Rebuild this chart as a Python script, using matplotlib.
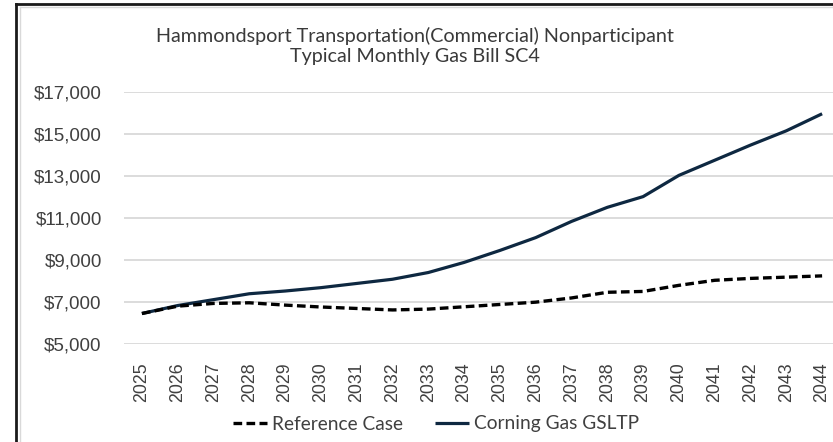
import numpy as np
import matplotlib
matplotlib.use("Agg")
import matplotlib.pyplot as plt
from matplotlib.lines import Line2D
from matplotlib.ticker import FuncFormatter

# Chart data
years = [str(y) for y in range(2025, 2045)]
reference_case = [6450, 6800, 6930, 6960, 6850, 6760, 6690, 6620, 6660, 6770,
                  6880, 6990, 7190, 7460, 7500, 7790, 8030, 8120, 8180, 8240]
corning_gsltp = [6450, 6830, 7110, 7390, 7520, 7680, 7880, 8080, 8400, 8880,
                 9450, 10060, 10830, 11500, 12010, 13020, 13740, 14460, 15140, 15950]
y_ticks = [5000, 7000, 9000, 11000, 13000, 15000, 17000]
title = "Hammondsport Transportation(Commercial) Nonparticipant\nTypical Monthly Gas Bill SC4"

W, H = 833, 442
fig = plt.figure(figsize=(W / 100, H / 100), dpi=100)
fig.patch.set_facecolor("white")

# axes extend a bit past the right edge (reference is cropped there)
ax = fig.add_axes([124 / W, 1 - 344 / H, (840 - 124) / W, (344 - 91.7) / H])
x = np.arange(len(years))

ax.plot(x, reference_case, color="black", lw=2.4, linestyle=(0, (2.6, 1.3)),
        label="Reference Case", zorder=3)
ax.plot(x, corning_gsltp, color="#0e2841", lw=2.3, label="Corning Gas GSLTP",
        zorder=2, solid_capstyle="butt")

ax.set_xlim(-0.5, len(years) - 0.5)
ax.set_ylim(5000, 17000)
ax.set_yticks(y_ticks)
ax.yaxis.set_major_formatter(FuncFormatter(lambda v, p: f"${v:,.0f}"))
ax.set_xticks(x)
ax.set_xticklabels(years, rotation=90)

for s in ax.spines.values():
    s.set_visible(False)
ax.grid(axis="y", color="#d9d9d9", lw=1.3)
ax.set_axisbelow(True)
ax.tick_params(axis="y", length=0, pad=16, labelsize=13.5, labelcolor="#404040")
ax.tick_params(axis="x", length=0, pad=13, labelsize=12.8, labelcolor="#404040")
for lab in ax.get_xticklabels() + ax.get_yticklabels():
    lab.set_fontfamily(["Liberation Sans", "DejaVu Sans"])

fig.text(415 / W, 1 - 46 / H, title, ha="center", va="center", fontsize=14.2,
         color="#3a3a3a", family=["Lato", "DejaVu Sans"], linespacing=1.2)

leg = fig.legend(loc="center", bbox_to_anchor=(436 / W, 1 - 424 / H), ncol=2,
                 frameon=False, handlelength=1.75, handletextpad=0.25,
                 columnspacing=1.7, prop={"family": ["Lato", "DejaVu Sans"], "size": 13.8})
for t in leg.get_texts():
    t.set_color("#404040")

# chart frame: dark outer line plus light inner line
fx, fy = 16 / W, 1 - 4 / H
fig.add_artist(Line2D([fx, fx], [0, fy], transform=fig.transFigure, color="#1a1a1a", lw=2))
fig.add_artist(Line2D([fx, 1], [fy, fy], transform=fig.transFigure, color="#1a1a1a", lw=2))
ix, iy = 19.5 / W, 1 - 7 / H
fig.add_artist(Line2D([ix, ix], [0, iy], transform=fig.transFigure, color="#d9d9d9", lw=1))
fig.add_artist(Line2D([ix, 1], [iy, iy], transform=fig.transFigure, color="#d9d9d9", lw=1))

fig.savefig("out.png", dpi=100)
